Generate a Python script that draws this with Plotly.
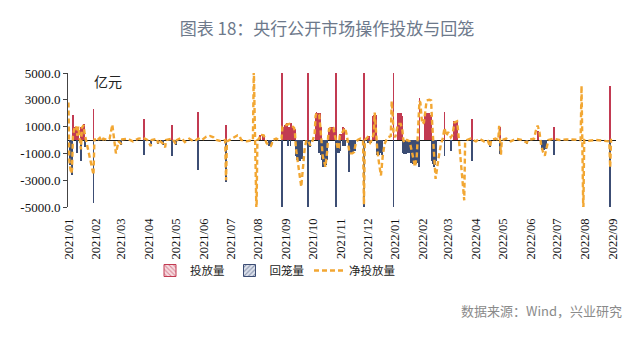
import plotly.graph_objects as go

# ---- Open-market operations, 亿元 ----
# Daily gross injection (投放) and maturity withdrawal (回笼)
bar_dates = [
    "2021-01-20", "2021-01-22", "2021-01-23", "2021-01-25", "2021-01-26", "2021-01-27",
    "2021-01-28", "2021-01-29", "2021-02-01", "2021-02-02", "2021-02-03", "2021-02-04",
    "2021-02-05", "2021-02-15", "2021-03-18", "2021-04-12", "2021-04-20", "2021-04-28",
    "2021-05-04", "2021-05-14", "2021-05-18", "2021-06-12", "2021-07-13", "2021-08-20",
    "2021-08-23", "2021-08-24", "2021-08-30", "2021-08-31", "2021-09-01", "2021-09-13",
    "2021-09-14", "2021-09-15", "2021-09-16", "2021-09-17", "2021-09-19", "2021-09-20",
    "2021-09-22", "2021-09-23", "2021-09-24", "2021-09-26", "2021-09-27", "2021-09-28",
    "2021-09-29", "2021-09-30", "2021-10-02", "2021-10-04", "2021-10-06", "2021-10-13",
    "2021-10-15", "2021-10-21", "2021-10-22", "2021-10-24", "2021-10-25", "2021-10-26",
    "2021-10-27", "2021-10-28", "2021-10-29", "2021-10-31", "2021-11-01", "2021-11-02",
    "2021-11-03", "2021-11-05", "2021-11-07", "2021-11-08", "2021-11-09", "2021-11-10",
    "2021-11-11", "2021-11-13", "2021-11-14", "2021-11-15", "2021-11-16", "2021-11-17",
    "2021-11-18", "2021-11-21", "2021-11-22", "2021-11-23", "2021-11-27", "2021-11-28",
    "2021-11-30", "2021-12-02", "2021-12-04", "2021-12-14", "2021-12-18", "2021-12-19",
    "2021-12-20", "2021-12-21", "2021-12-22", "2021-12-24", "2021-12-25", "2021-12-26",
    "2021-12-27", "2021-12-29", "2021-12-30", "2021-12-31", "2022-01-01", "2022-01-02",
    "2022-01-03", "2022-01-16", "2022-01-21", "2022-01-22", "2022-01-23", "2022-01-24",
    "2022-01-25", "2022-01-26", "2022-01-27", "2022-01-28", "2022-01-29", "2022-01-30",
    "2022-01-31", "2022-02-01", "2022-02-02", "2022-02-03", "2022-02-04", "2022-02-05",
    "2022-02-06", "2022-02-07", "2022-02-08", "2022-02-09", "2022-02-10", "2022-02-11",
    "2022-02-13", "2022-02-14", "2022-02-20", "2022-02-21", "2022-02-22", "2022-02-23",
    "2022-02-24", "2022-02-25", "2022-02-26", "2022-02-27", "2022-02-28", "2022-03-01",
    "2022-03-02", "2022-03-03", "2022-03-04", "2022-03-14", "2022-03-21", "2022-03-25",
    "2022-03-26", "2022-03-27", "2022-03-28", "2022-04-14", "2022-05-04", "2022-05-15",
    "2022-06-14", "2022-06-26", "2022-07-01", "2022-07-02", "2022-07-03", "2022-07-04",
    "2022-07-05", "2022-07-14", "2022-09-15",
]
inject = [
    0, 0, 1850, 1000, 1000, 1000,
    1000, 1000, 1000, 1000, 1000, 1200,
    0, 2300, 0, 1600, 0, 0,
    0, 1100, 0, 2100, 1100, 400,
    400, 400, 0, 0, 0, 6000,
    1000, 1000, 1000, 1100, 1300, 1000,
    1000, 1000, 1300, 1000, 1000, 800,
    0, 0, 0, 0, 0, 6000,
    0, 2000, 2100, 2000, 2000, 2000,
    1000, 0, 0, 0, 0, 0,
    0, 900, 1000, 1000, 900, 1000,
    800, 6000, 0, 0, 0, 450,
    450, 950, 900, 0, 0, 0,
    0, 0, 0, 6000, 300, 0,
    300, 0, 0, 1800, 1900, 2000,
    1900, 0, 0, 0, 0, 0,
    0, 6000, 2000, 2000, 2000, 2000,
    1900, 1800, 0, 0, 0, 0,
    0, 0, 0, 0, 0, 0,
    0, 0, 0, 0, 0, 0,
    0, 3100, 1800, 1900, 2000, 2000,
    2000, 2000, 1900, 1900, 0, 0,
    0, 0, 0, 2100, 0, 1400,
    1450, 1450, 1400, 1550, 0, 1000,
    0, 700, 0, 0, 0, 0,
    0, 950, 4000,
]
withdraw = [
    1900, 2600, 0, 0, 0, 0,
    1000, 0, 1600, 0, 0, 0,
    500, 4700, 350, 1150, 300, 300,
    400, 1200, 350, 2250, 3100, 0,
    0, 0, 450, 450, 450, 6000,
    0, 0, 0, 0, 0, 450,
    0, 450, 0, 0, 0, 0,
    1200, 1500, 1600, 1600, 1400, 6000,
    500, 0, 0, 0, 1000, 1000,
    1100, 1500, 2000, 2000, 2000, 1900,
    1500, 0, 0, 0, 0, 0,
    0, 6000, 950, 950, 950, 800,
    0, 450, 0, 450, 2400, 1000,
    1000, 900, 800, 6000, 0, 250,
    0, 250, 250, 0, 0, 0,
    0, 1100, 1100, 1100, 1000, 1000,
    1100, 6000, 0, 0, 0, 0,
    0, 0, 1000, 1050, 1050, 1050,
    1000, 1000, 1000, 1000, 1600, 1700,
    1700, 1800, 1800, 1900, 1800, 1700,
    2000, 0, 0, 0, 0, 0,
    0, 0, 0, 0, 1600, 1800,
    2000, 1900, 1600, 1200, 820, 0,
    0, 0, 0, 1600, 520, 1050,
    300, 0, 750, 750, 750, 700,
    650, 1150, 6000,
]

# Net injection (净投放量)
net_dates = [
    "2021-01-18", "2021-01-19", "2021-01-20", "2021-01-21", "2021-01-22", "2021-01-23",
    "2021-01-25", "2021-01-26", "2021-01-27", "2021-01-28", "2021-01-29", "2021-02-01",
    "2021-02-02", "2021-02-03", "2021-02-04", "2021-02-05", "2021-02-15", "2021-02-16",
    "2021-02-18", "2021-02-22", "2021-02-24", "2021-02-26", "2021-03-03", "2021-03-05",
    "2021-03-08", "2021-03-09", "2021-03-10", "2021-03-11", "2021-03-12", "2021-03-15",
    "2021-03-18", "2021-03-19", "2021-03-25", "2021-03-31", "2021-04-06", "2021-04-12",
    "2021-04-16", "2021-04-20", "2021-04-21", "2021-04-27", "2021-04-28", "2021-04-29",
    "2021-05-04", "2021-05-06", "2021-05-07", "2021-05-14", "2021-05-18", "2021-05-19",
    "2021-05-24", "2021-05-28", "2021-06-02", "2021-06-07", "2021-06-12", "2021-06-16",
    "2021-06-21", "2021-06-25", "2021-06-29", "2021-07-02", "2021-07-08", "2021-07-12",
    "2021-07-13", "2021-07-14", "2021-07-20", "2021-07-26", "2021-07-28", "2021-07-30",
    "2021-08-05", "2021-08-12", "2021-08-13", "2021-08-16", "2021-08-17", "2021-08-19",
    "2021-08-20", "2021-08-23", "2021-08-24", "2021-08-26", "2021-08-27", "2021-08-30",
    "2021-08-31", "2021-09-01", "2021-09-02", "2021-09-03", "2021-09-07", "2021-09-10",
    "2021-09-13", "2021-09-14", "2021-09-17", "2021-09-22", "2021-09-27", "2021-09-28",
    "2021-09-29", "2021-10-01", "2021-10-03", "2021-10-05", "2021-10-07", "2021-10-09",
    "2021-10-11", "2021-10-13", "2021-10-15", "2021-10-18", "2021-10-20", "2021-10-21",
    "2021-10-22", "2021-10-25", "2021-10-26", "2021-10-27", "2021-10-28", "2021-10-29",
    "2021-11-01", "2021-11-02", "2021-11-03", "2021-11-04", "2021-11-05", "2021-11-08",
    "2021-11-10", "2021-11-11", "2021-11-12", "2021-11-13", "2021-11-15", "2021-11-16",
    "2021-11-17", "2021-11-19", "2021-11-21", "2021-11-23", "2021-11-25", "2021-11-27",
    "2021-11-28", "2021-12-01", "2021-12-03", "2021-12-05", "2021-12-07", "2021-12-10",
    "2021-12-13", "2021-12-14", "2021-12-15", "2021-12-18", "2021-12-21", "2021-12-23",
    "2021-12-25", "2021-12-26", "2021-12-27", "2021-12-28", "2021-12-29", "2021-12-31",
    "2022-01-02", "2022-01-04", "2022-01-06", "2022-01-08", "2022-01-10", "2022-01-13",
    "2022-01-14", "2022-01-15", "2022-01-16", "2022-01-18", "2022-01-20", "2022-01-21",
    "2022-01-24", "2022-01-26", "2022-01-27", "2022-01-28", "2022-01-31", "2022-02-03",
    "2022-02-06", "2022-02-09", "2022-02-11", "2022-02-13", "2022-02-14", "2022-02-15",
    "2022-02-17", "2022-02-19", "2022-02-21", "2022-02-22", "2022-02-25", "2022-02-27",
    "2022-02-28", "2022-03-02", "2022-03-04", "2022-03-07", "2022-03-10", "2022-03-12",
    "2022-03-14", "2022-03-16", "2022-03-18", "2022-03-21", "2022-03-23", "2022-03-25",
    "2022-03-28", "2022-03-29", "2022-03-30", "2022-04-01", "2022-04-03", "2022-04-05",
    "2022-04-06", "2022-04-08", "2022-04-12", "2022-04-14", "2022-04-18", "2022-04-22",
    "2022-04-27", "2022-05-01", "2022-05-04", "2022-05-05", "2022-05-10", "2022-05-13",
    "2022-05-14", "2022-05-16", "2022-05-17", "2022-05-22", "2022-05-27", "2022-06-02",
    "2022-06-08", "2022-06-14", "2022-06-15", "2022-06-22", "2022-06-24", "2022-06-26",
    "2022-06-28", "2022-06-30", "2022-07-02", "2022-07-04", "2022-07-06", "2022-07-08",
    "2022-07-14", "2022-07-20", "2022-07-28", "2022-08-05", "2022-08-13", "2022-08-14",
    "2022-08-16", "2022-08-17", "2022-08-22", "2022-08-30", "2022-09-06", "2022-09-14",
    "2022-09-15", "2022-09-16", "2022-09-17",
]
net = [
    2800, -1500, -2100, -2500, -2200, 300,
    1000, 900, 1000, 300, 1000, -700,
    900, 1000, 1100, 500, -2600, 100,
    -100, 150, -100, 100, 0, 100,
    1150, 600, 100, -500, -1000, -100,
    -300, 50, 100, -100, 100, 150,
    0, -450, 0, 100, -250, 0,
    -300, -550, 0, 100, -300, 0,
    150, -150, 100, -100, 100, 0,
    250, 300, 200, 0, -100, 0,
    -3000, -100, 100, 350, 300, 0,
    -100, 0, 5400, -5700, 0, 100,
    400, 400, 350, 0, -200, -450,
    -450, -450, -300, 0, 100, 0,
    100, 1000, 1100, 1200, 900, 500,
    -600, -1500, -2500, -3500, -2000, -500,
    0, -100, -400, 0, 500, 1800,
    2000, 1900, 1200, 200, -500, -1200,
    -2000, -1500, -800, 200, 800, 1000,
    900, 500, 0, -100, -700, -600,
    300, 450, 700, 900, 300, -600,
    -1000, -1000, -900, -200, 0, 100,
    0, -4800, 0, 200, -200, 0,
    500, 2050, 1000, -300, -800, -1800,
    -2650, -1200, -300, 0, 200, 300,
    2900, 2000, 500, 200, 1000, 1200,
    1200, 700, 0, -200, 0, -100,
    -1000, -2000, -1200, 1500, 2900, 2800,
    1200, 1300, 2400, 2950, 3000, 2950,
    1500, -1000, -2900, -1500, -300, 100,
    900, 300, 600, 200, 400, 1300,
    1400, 800, 0, -1500, -3000, -4500,
    -100, 0, 100, 0, -100, 100,
    -100, 0, -500, 0, 100, 0,
    1050, -1100, 0, 100, -100, 100,
    0, -200, 0, 100, 700, 1070,
    600, -400, -900, -1170, -600, 0,
    100, 0, 50, 0, 0, 4050,
    -5600, 0, -50, 0, -50, -100,
    -2050, 0, 0,
]

y_ticks = [-5000, -3000, -1000, 1000, 3000, 5000]
y_tick_labels = [f"{v:.1f}" for v in y_ticks]

RED = "#C23A52"
BLUE = "#3C4D74"
ORANGE = "#F2A733"
CJK = "Noto Sans CJK SC"
SERIF = "'Times New Roman', 'Liberation Serif', serif"
DAY_MS = 86400000

fig = go.Figure()

# legend swatches with the hatch fill
fig.add_trace(go.Bar(
    x=[None], y=[None], name="投放量",
    marker=dict(color="white", line=dict(color=RED, width=1),
                pattern=dict(shape="\\", fgcolor=RED, bgcolor="#F6DDE2", size=4, solidity=0.35)),
))
fig.add_trace(go.Bar(
    x=[None], y=[None], name="回笼量",
    marker=dict(color="white", line=dict(color=BLUE, width=1),
                pattern=dict(shape="/", fgcolor=BLUE, bgcolor="#DDE2EC", size=4, solidity=0.35)),
))

# daily bars
fig.add_trace(go.Bar(
    x=bar_dates, y=inject, width=1.0 * DAY_MS, showlegend=False, name="投放量",
    marker=dict(color=RED, line=dict(width=0)),
))
fig.add_trace(go.Bar(
    x=bar_dates, y=[-v for v in withdraw], width=1.0 * DAY_MS, showlegend=False, name="回笼量",
    marker=dict(color=BLUE, line=dict(width=0)),
))

# net line
fig.add_trace(go.Scatter(
    x=net_dates, y=net, mode="lines", name="净投放量",
    line=dict(color=ORANGE, width=2.4, dash="5px,3px"),
))

fig.update_layout(
    width=640, height=338,
    margin=dict(l=68, r=24, t=73, b=131, autoexpand=False),
    paper_bgcolor="white", plot_bgcolor="white",
    barmode="overlay", bargap=0,
    title=dict(
        text="图表 18：央行公开市场操作投放与回笼",
        font=dict(family=CJK, size=17, color="#6D798B"),
        x=0.511, xref="container", xanchor="center",
        y=1 - 29 / 338, yref="container", yanchor="middle",
    ),
    legend=dict(
        orientation="h", xref="container", yref="container",
        x=150 / 640, y=1 - 256 / 338, xanchor="left", yanchor="top",
        font=dict(family=CJK, size=11.5, color="#222"),
        bgcolor="rgba(0,0,0,0)",
    ),
    xaxis=dict(
        type="date", automargin=False,
        range=["2021-01-17 12:00", "2022-09-21 12:00"],
        tick0="2021-01-18", dtick="M1", tickformat="%Y/%m",
        tickangle=-90, ticks="", ticklabelstandoff=8,
        showgrid=False, zeroline=False, showline=False,
        tickfont=dict(family=SERIF, size=12.5, color="#111"),
    ),
    yaxis=dict(
        automargin=False,
        range=[-5000, 5000],
        tickvals=y_ticks, ticktext=y_tick_labels,
        ticks="outside", ticklen=4, tickcolor="#444",
        showline=True, linecolor="#444", linewidth=1,
        showgrid=False,
        zeroline=True, zerolinecolor="#1a1a1a", zerolinewidth=1,
        tickfont=dict(family=SERIF, size=13, color="#111"),
    ),
    annotations=[
        dict(text="亿元", xref="paper", yref="paper", x=(108 - 68) / 548, y=(207 - 81) / 134,
             showarrow=False, xanchor="center", yanchor="middle",
             font=dict(family=CJK, size=14, color="#222")),
        dict(text="数据来源：Wind，兴业研究", xref="paper", yref="paper",
             x=(624 - 68) / 548, y=(207 - 310) / 134, showarrow=False,
             xanchor="right", yanchor="middle",
             font=dict(family=CJK, size=13, color="#8a8a8a")),
    ],
)

fig.write_html("out.html")
